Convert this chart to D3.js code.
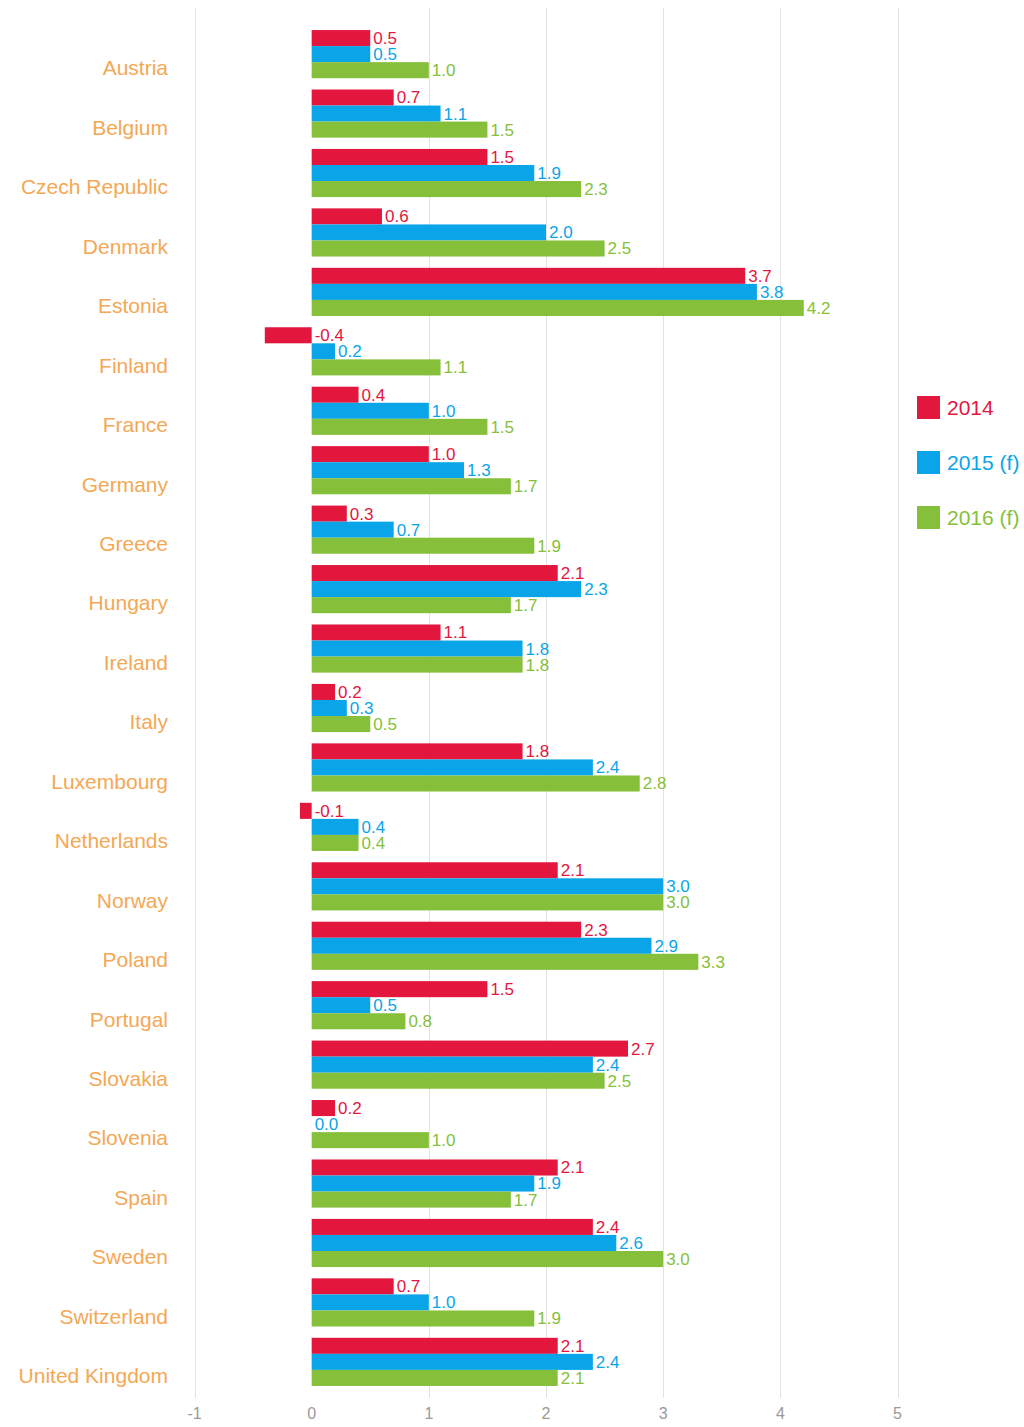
<!DOCTYPE html>
<html>
<head>
<meta charset="utf-8">
<script src="https://cdn.jsdelivr.net/npm/d3@7"></script>
<style>
  body { margin: 0; background: #fff; }
  svg { display: block; font-family: "Liberation Sans", Arial, sans-serif; }
</style>
</head>
<body>
<svg id="chart" width="1024" height="1427"></svg>
<script>
const countries = ["Austria", "Belgium", "Czech Republic", "Denmark", "Estonia", "Finland", "France",
  "Germany", "Greece", "Hungary", "Ireland", "Italy", "Luxembourg", "Netherlands", "Norway", "Poland",
  "Portugal", "Slovakia", "Slovenia", "Spain", "Sweden", "Switzerland", "United Kingdom"];
const v2014 = [0.5, 0.7, 1.5, 0.6, 3.7, -0.4, 0.4, 1.0, 0.3, 2.1, 1.1, 0.2, 1.8, -0.1, 2.1, 2.3, 1.5, 2.7, 0.2, 2.1, 2.4, 0.7, 2.1];
const v2015 = [0.5, 1.1, 1.9, 2.0, 3.8, 0.2, 1.0, 1.3, 0.7, 2.3, 1.8, 0.3, 2.4, 0.4, 3.0, 2.9, 0.5, 2.4, 0.0, 1.9, 2.6, 1.0, 2.4];
const v2016 = [1.0, 1.5, 2.3, 2.5, 4.2, 1.1, 1.5, 1.7, 1.9, 1.7, 1.8, 0.5, 2.8, 0.4, 3.0, 3.3, 0.8, 2.5, 1.0, 1.7, 3.0, 1.9, 2.1];
const seriesNames = ["2014", "2015 (f)", "2016 (f)"];
const xTicks = [-1, 0, 1, 2, 3, 4, 5];

const colors = ["#e3173e", "#0aa5e8", "#86bf3a"];
const series = [v2014, v2015, v2016];

const svg = d3.select("#chart");

const x = d3.scaleLinear().domain([-1, 5]).range([194.5, 897.5]);
const y = d3.scaleBand().domain(countries).range([24.4, 1391.6])
  .paddingInner(0.19).paddingOuter(0.095);
const ySub = d3.scaleBand().domain(seriesNames).range([0, y.bandwidth()]);

// grid
svg.append("g").selectAll("line")
  .data(xTicks.filter(d => d !== 0))
  .join("line")
  .attr("x1", d => Math.round(x(d)) + 0.5).attr("x2", d => Math.round(x(d)) + 0.5)
  .attr("y1", 8).attr("y2", 1398)
  .attr("stroke", "#e2e2e2").attr("stroke-width", 1);

// tick labels
svg.append("g").selectAll("text")
  .data(xTicks)
  .join("text")
  .attr("x", d => x(d)).attr("y", 1419)
  .attr("text-anchor", "middle")
  .attr("font-size", 16).attr("fill", "#9a9a9a")
  .text(d => d);

// country labels
svg.append("g").selectAll("text")
  .data(countries)
  .join("text")
  .attr("x", 168)
  .attr("y", d => y(d) + y.bandwidth() / 2 + 14)
  .attr("dy", "0.35em")
  .attr("text-anchor", "end")
  .attr("font-size", 21).attr("fill", "#f4a855")
  .text(d => d);

// bars + value labels
series.forEach((vals, si) => {
  const g = svg.append("g");
  const rows = countries.map((c, i) => ({ c, v: vals[i] }));
  g.selectAll("rect")
    .data(rows)
    .join("rect")
    .attr("x", d => x(Math.min(0, d.v)))
    .attr("width", d => Math.abs(x(d.v) - x(0)))
    .attr("y", d => y(d.c) + ySub(seriesNames[si]))
    .attr("height", ySub.bandwidth())
    .attr("fill", colors[si]);
  g.selectAll("text")
    .data(rows)
    .join("text")
    .attr("x", d => x(Math.max(0, d.v)) + 3)
    .attr("y", d => y(d.c) + ySub(seriesNames[si]) + ySub.bandwidth() / 2)
    .attr("dy", "0.35em")
    .attr("font-size", 17).attr("fill", colors[si])
    .text(d => d.v.toFixed(1));
});

// legend
const legend = svg.append("g").selectAll("g")
  .data(seriesNames)
  .join("g")
  .attr("transform", (d, i) => `translate(917, ${396 + i * 55})`);
legend.append("rect")
  .attr("width", 23).attr("height", 23)
  .attr("fill", (d, i) => colors[i]);
legend.append("text")
  .attr("x", 30).attr("y", 12).attr("dy", "0.35em")
  .attr("font-size", 21)
  .attr("fill", (d, i) => colors[i])
  .text(d => d);
</script>
</body>
</html>
